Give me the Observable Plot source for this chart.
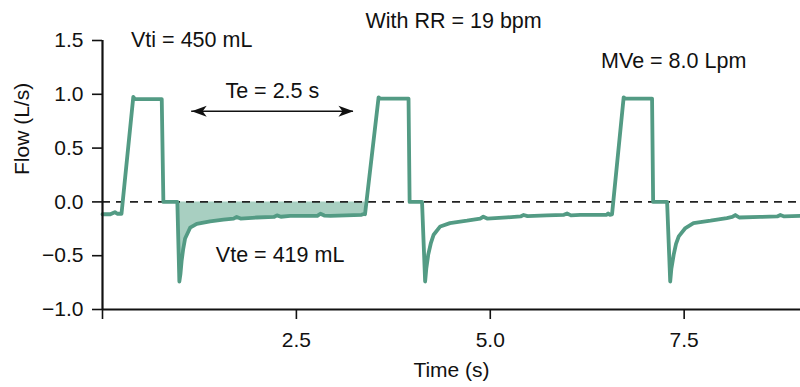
<!DOCTYPE html>
<html><head><meta charset="utf-8">
<script src="https://cdn.jsdelivr.net/npm/d3@7"></script>
<script src="https://cdn.jsdelivr.net/npm/@observablehq/plot@0.6"></script>
<style>
html,body{margin:0;padding:0;background:#fff;}
</style>
</head><body><div id="chart"></div>
<script>
// Flow waveform (time in s, flow in L/s)
const time = [
  0.00, 0.10, 0.13, 0.16, 0.19, 0.245, 0.397, 0.42, 0.764, 0.785, 0.965,
  0.991, 1.005, 1.02, 1.04, 1.065, 1.13, 1.215, 1.387, 1.559, 1.69, 1.73, 1.78, 1.99, 2.21, 2.25, 2.30, 2.42, 2.77, 2.81, 2.86, 2.94, 3.34, 3.37, 3.385,
  3.56, 3.58, 3.946, 3.96, 4.12,
  4.16, 4.175, 4.20, 4.235, 4.27, 4.355, 4.48, 4.70, 4.87, 4.91, 4.96, 5.215, 5.39, 5.43, 5.48, 5.73, 5.95, 5.99, 6.04, 6.16, 6.50, 6.52, 6.54, 6.57,
  6.72, 6.74, 7.086, 7.10, 7.28,
  7.32, 7.335, 7.365, 7.395, 7.43, 7.516, 7.62, 7.84, 8.05, 8.12, 8.16, 8.21, 8.48, 8.70, 8.74, 8.79, 9.00
];
const flow = [
  -0.115, -0.115, -0.105, -0.095, -0.11, -0.11, 0.975, 0.955, 0.955, 0.0, 0.0,
  -0.74, -0.67, -0.55, -0.44, -0.34, -0.24, -0.205, -0.18, -0.165, -0.155, -0.14, -0.155, -0.145, -0.14, -0.125, -0.138, -0.13, -0.13, -0.11, -0.127, -0.13, -0.12, -0.112, -0.115,
  0.972, 0.96, 0.96, 0.0, 0.0,
  -0.74, -0.62, -0.49, -0.38, -0.305, -0.228, -0.197, -0.175, -0.155, -0.138, -0.155, -0.144, -0.135, -0.122, -0.132, -0.125, -0.12, -0.108, -0.125, -0.12, -0.12, -0.108, -0.12, -0.115,
  0.972, 0.96, 0.96, 0.0, 0.0,
  -0.74, -0.62, -0.49, -0.39, -0.32, -0.243, -0.197, -0.175, -0.15, -0.14, -0.122, -0.145, -0.14, -0.135, -0.122, -0.135, -0.13
];
const xTicks = [0, 2.5, 5, 7.5];
const yTicks = [-1, -0.5, 0, 0.5, 1, 1.5];
const xDomain = [0, 9];
const yDomain = [-1, 1.5];

// Annotations (text, time, flow)
const noteText = ["Vti = 450 mL", "With RR = 19 bpm", "MVe = 8.0 Lpm", "Te = 2.5 s", "Vte = 419 mL"];
const noteT = [1.15, 4.527, 7.365, 2.19, 2.29];
const noteV = [1.50, 1.679, 1.307, 1.028, -0.49];

// Expiratory time arrow and shaded expiratory volume
const teSpan = [1.15, 3.236];
const teLevel = 0.842;
const expWindow = [0.965, 3.41];

const rows = time.map((t, i) => ({t, v: flow[i]}));
const expRows = rows.filter(d => d.t >= expWindow[0] && d.t <= expWindow[1]);
const notes = noteText.map((s, i) => ({s, t: noteT[i], v: noteV[i]}));

const headLeft = {draw(ctx) { ctx.moveTo(0, 0); ctx.lineTo(15, -5.5); ctx.lineTo(11, 0); ctx.lineTo(15, 5.5); ctx.closePath(); }};
const headRight = {draw(ctx) { ctx.moveTo(0, 0); ctx.lineTo(-15, -5.5); ctx.lineTo(-11, 0); ctx.lineTo(-15, 5.5); ctx.closePath(); }};

const lineColor = "#539b84";
const fillColor = "#a8cfc1";

const chart = Plot.plot({
  width: 800,
  height: 387,
  marginLeft: 102,
  marginRight: 0,
  marginTop: 40,
  marginBottom: 78,
  style: {fontFamily: "'Liberation Sans', Arial, Helvetica, sans-serif", fontSize: "21px", color: "#111", background: "#fff", overflow: "visible"},
  x: {domain: xDomain},
  y: {domain: yDomain},
  marks: [
    Plot.areaY(expRows, {x: "t", y1: 0, y2: "v", fill: fillColor}),
    Plot.ruleY([0], {stroke: "#222", strokeDasharray: "8,6", strokeWidth: 1.6}),
    Plot.line(rows, {x: "t", y: "v", stroke: lineColor, strokeWidth: 3.8, strokeLinejoin: "round", strokeLinecap: "round"}),
    Plot.ruleX([xDomain[0]], {y1: yDomain[0], y2: yDomain[1], stroke: "#111", strokeWidth: 2.2}),
    Plot.ruleY([yDomain[0]], {stroke: "#111", strokeWidth: 2.2}),
    Plot.axisX({ticks: xTicks, tickFormat: d => d === 0 ? "" : d3.format(".1f")(d), tickSize: 10, tickPadding: 13, fontSize: 21, strokeWidth: 1.6, label: null}),
    Plot.axisY({ticks: yTicks, tickFormat: d3.format(".1f"), tickSize: 10, tickPadding: 9, fontSize: 21, strokeWidth: 1.6, label: null}),
    Plot.text(["Time (s)"], {frameAnchor: "bottom", lineAnchor: "middle", dy: 61, fontSize: 21}),
    Plot.text(["Flow (L/s)"], {frameAnchor: "left", lineAnchor: "middle", rotate: -90, dx: -80, fontSize: 21}),
    Plot.text(notes, {x: "t", y: "v", text: "s", fontSize: 21.5, fill: "#111"}),
    Plot.ruleY([teLevel], {x1: teSpan[0], x2: teSpan[1], stroke: "#111", strokeWidth: 1.4}),
    Plot.dot([teSpan[0]], {x: d => d, y: () => teLevel, symbol: headLeft, fill: "#111", stroke: "none"}),
    Plot.dot([teSpan[1]], {x: d => d, y: () => teLevel, symbol: headRight, fill: "#111", stroke: "none"})
  ]
});
document.getElementById("chart").appendChild(chart);
</script>
</body></html>
